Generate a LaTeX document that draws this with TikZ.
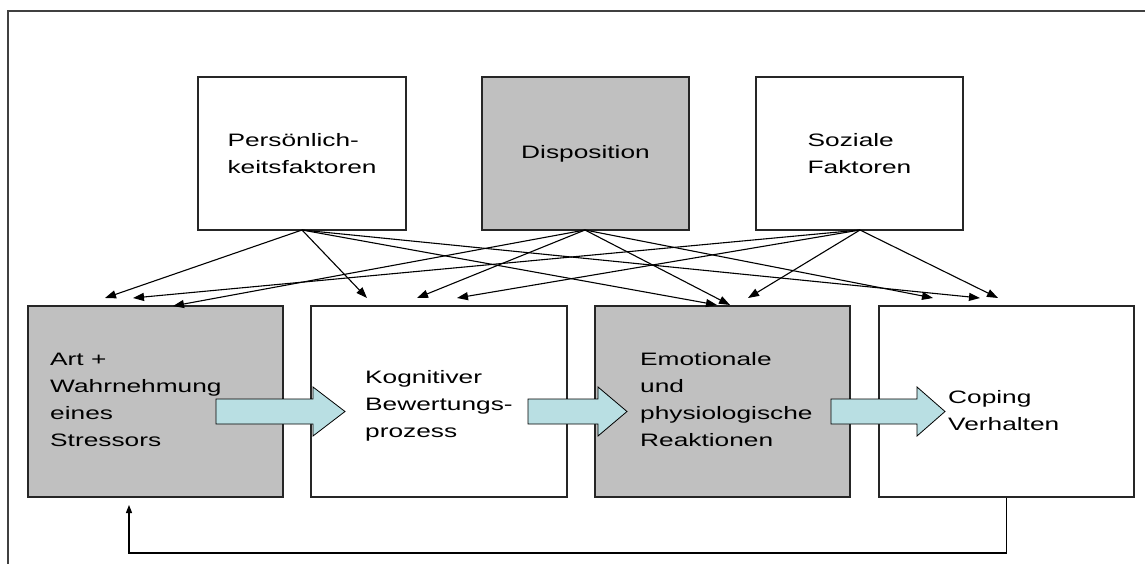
\documentclass[tikz,border=0pt]{standalone}
\usepackage{fontspec}
\setmainfont{Liberation Sans}[FakeStretch=1.46]
\usetikzlibrary{arrows.meta}
\definecolor{boxgrey}{RGB}{192,192,192}
\definecolor{arrcyan}{RGB}{185,223,227}
\begin{document}
\begin{tikzpicture}[x=1pt,y=-1pt,
  box/.style={draw=black!85,line width=1.1pt,inner sep=0pt,align=left,
    font=\fontsize{18}{27}\selectfont},
  greybox/.style={box,fill=boxgrey},
  lbl/.style={anchor=west,align=left,inner sep=0pt,font=\fontsize{18}{27}\selectfont},
  thin/.style={line width=1.1pt,-{Triangle[length=11pt,width=8pt]}},
  blockarrow/.style={draw=black,line width=0.8pt,fill=arrcyan},
  frame/.style={draw=black!75,line width=1.2pt}]
\useasboundingbox (0,0) rectangle (1145,564);
% outer frame
\coordinate (fA) at (8,564);
\coordinate (fB) at (8,11);
\coordinate (fC) at (1145,11);
\draw[frame] (fA) -- (fB) -- (fC);
% top boxes
\node[box,minimum width=208pt,minimum height=153pt] (pers) at (302,153.5) {Persönlich-\\keitsfaktoren};
\node[greybox,minimum width=207pt,minimum height=153pt] (disp) at (585.5,153.5) {Disposition};
\node[box,minimum width=207pt,minimum height=153pt] (soz) at (859.5,153.5) {Soziale\\Faktoren};
% bottom boxes
\node[greybox,minimum width=255pt,minimum height=191pt] (b1) at (155.5,401.5) {};
\node[box,minimum width=256pt,minimum height=191pt] (b2) at (439,401.5) {};
\node[greybox,minimum width=255pt,minimum height=191pt] (b3) at (722.5,401.5) {};
\node[box,minimum width=255pt,minimum height=191pt] (b4) at (1006.5,401.5) {};
% texts
\node[lbl] (t1) at (50,400) {Art +\\Wahrnehmung\\eines\\Stressors};
\node[lbl] (t2) at (365,406) {Kognitiver\\Bewertungs-\\prozess};
\node[lbl] (t3) at (640,400) {Emotionale\\und\\physiologische\\Reaktionen};
\node[lbl] (t4) at (948,411) {Coping\\Verhalten};
% block arrows
\draw[blockarrow] (216,399) -- (313,399) -- (313,387) -- (345,411.5) -- (313,436) -- (313,424) -- (216,424) -- cycle;
\draw[blockarrow] (528,399) -- (598,399) -- (598,387) -- (627,411.5) -- (598,436) -- (598,424) -- (528,424) -- cycle;
\draw[blockarrow] (831,399) -- (917,399) -- (917,387) -- (945,411.5) -- (917,436) -- (917,424) -- (831,424) -- cycle;
% thin arrows
\coordinate (ps) at (302,230);
\coordinate (ds) at (585,230);
\coordinate (ss) at (860,230);
\foreach \n/\x/\y in {p1/105/298, p2/367/298, p3/717/305, p4/980/298,
                      d1/173/306, d2/417/298, d3/730/305, d4/933/298,
                      s1/133/298, s2/457/298, s3/748/298, s4/998/298}
  \coordinate (\n) at (\x,\y);
\foreach \t in {p1,p2,p3,p4} \draw[thin] (ps) -- (\t);
\foreach \t in {d1,d2,d3,d4} \draw[thin] (ds) -- (\t);
\foreach \t in {s1,s2,s3,s4} \draw[thin] (ss) -- (\t);
% feedback
\coordinate (fb1) at (1006.5,553);
\coordinate (fb2) at (129,553);
\coordinate (fb3) at (129,505);
\draw[line width=1.1pt,-{Triangle[length=8pt,width=6pt]}] (b4.south) -- (fb1) -- (fb2) -- (fb3);
\end{tikzpicture}
\end{document}
